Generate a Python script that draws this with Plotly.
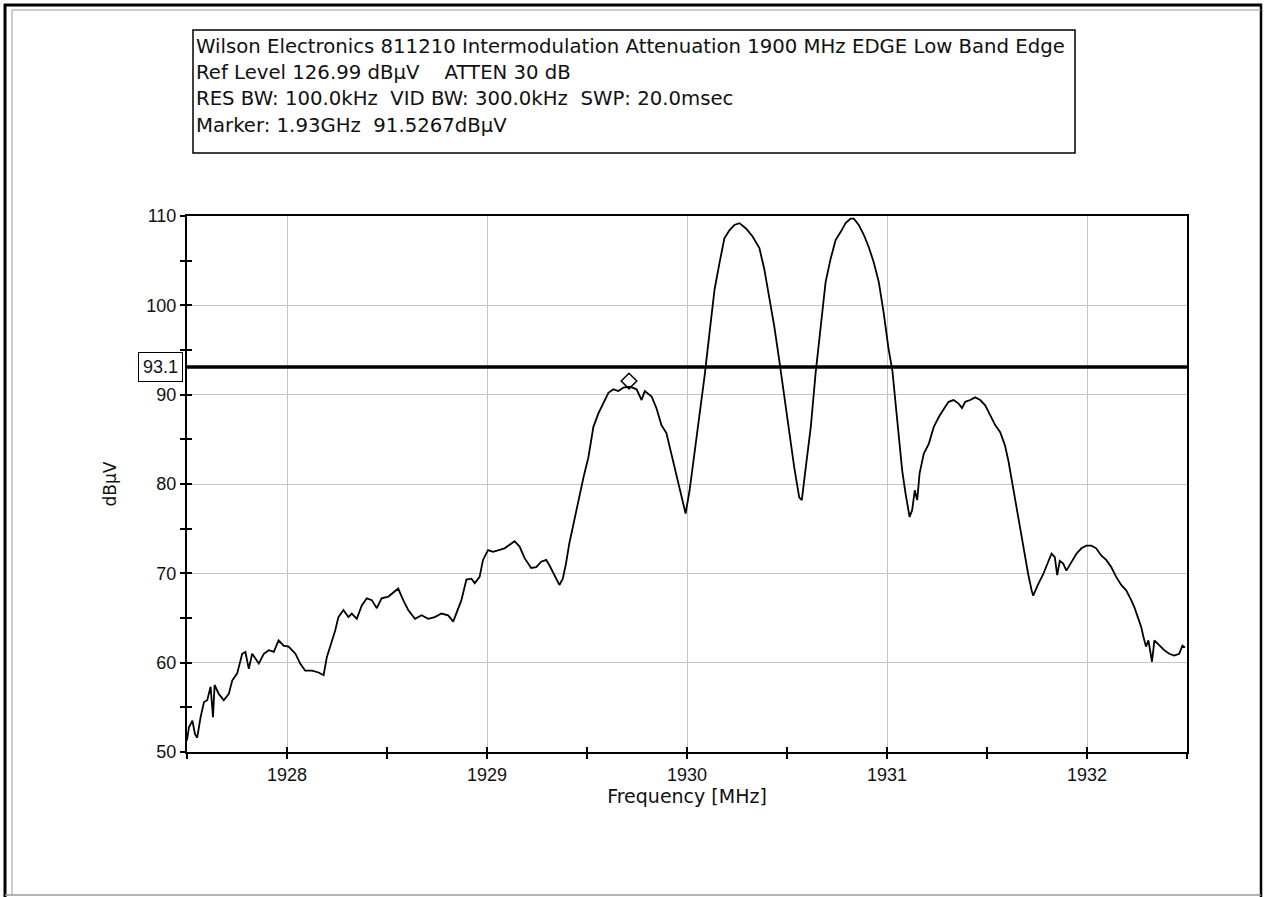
import plotly.graph_objects as go

# Spectrum analyser trace: frequency (MHz) vs level (dBuV)
freq_mhz = [
    1927.500, 1927.510, 1927.527, 1927.540, 1927.551, 1927.568, 1927.585, 1927.601,
    1927.618, 1927.630, 1927.638, 1927.659, 1927.684, 1927.709, 1927.726, 1927.751,
    1927.776, 1927.792, 1927.809, 1927.826, 1927.859, 1927.884, 1927.909, 1927.934,
    1927.958, 1927.983, 1928.008, 1928.042, 1928.066, 1928.091, 1928.125, 1928.158,
    1928.183, 1928.199, 1928.216, 1928.241, 1928.257, 1928.282, 1928.307, 1928.324,
    1928.349, 1928.374, 1928.399, 1928.424, 1928.449, 1928.473, 1928.507, 1928.532,
    1928.556, 1928.581, 1928.606, 1928.640, 1928.673, 1928.706, 1928.739, 1928.772,
    1928.806, 1928.831, 1928.847, 1928.872, 1928.897, 1928.922, 1928.939, 1928.963,
    1928.980, 1929.005, 1929.030, 1929.055, 1929.088, 1929.113, 1929.138, 1929.163,
    1929.188, 1929.221, 1929.246, 1929.271, 1929.296, 1929.312, 1929.337, 1929.362,
    1929.379, 1929.395, 1929.412, 1929.429,
    1929.441, 1929.466, 1929.483, 1929.507, 1929.532, 1929.557, 1929.582, 1929.607,
    1929.632, 1929.657, 1929.682, 1929.715, 1929.748, 1929.773, 1929.789, 1929.823,
    1929.847, 1929.872, 1929.897, 1929.922, 1929.947, 1929.972, 1929.993, 1930.013,
    1930.038, 1930.063, 1930.088, 1930.113, 1930.138, 1930.163, 1930.187, 1930.212,
    1930.237, 1930.262, 1930.295, 1930.328, 1930.362, 1930.386, 1930.411, 1930.436,
    1930.461, 1930.486, 1930.511, 1930.536, 1930.561, 1930.574, 1930.594, 1930.619,
    1930.643, 1930.668, 1930.693, 1930.718, 1930.743, 1930.768, 1930.793, 1930.818,
    1930.834, 1930.859, 1930.884, 1930.909, 1930.934, 1930.959, 1930.983, 1931.008,
    1931.027, 1931.043, 1931.060, 1931.076, 1931.093, 1931.113, 1931.126, 1931.139,
    1931.151, 1931.163, 1931.184, 1931.209, 1931.234, 1931.259, 1931.284, 1931.308,
    1931.333, 1931.358, 1931.375, 1931.391, 1931.416, 1931.441, 1931.466, 1931.491,
    1931.516, 1931.541, 1931.566, 1931.590, 1931.607, 1931.624, 1931.640, 1931.657,
    1931.673, 1931.690, 1931.706, 1931.723, 1931.731, 1931.756, 1931.781, 1931.806,
    1931.823, 1931.839, 1931.851, 1931.864, 1931.881, 1931.897, 1931.922, 1931.947,
    1931.972, 1931.997, 1932.022, 1932.046, 1932.071, 1932.096, 1932.121, 1932.146,
    1932.171, 1932.196, 1932.221, 1932.237, 1932.254, 1932.271, 1932.282, 1932.295,
    1932.307, 1932.317, 1932.325, 1932.337, 1932.362, 1932.386, 1932.411, 1932.436,
    1932.461, 1932.477, 1932.490,
]
level_dbuv = [
    51.3, 52.8, 53.5, 52.0, 51.6, 53.9, 55.6, 55.8,
    57.3, 53.9, 57.5, 56.5, 55.8, 56.5, 58.0, 58.8,
    61.0, 61.2, 59.3, 61.0, 59.9, 61.0, 61.4, 61.2,
    62.5, 61.9, 61.8, 61.0, 59.9, 59.1, 59.1, 58.9,
    58.6, 60.6, 61.8, 63.6, 65.1, 65.9, 65.1, 65.5,
    64.9, 66.4, 67.2, 67.0, 66.1, 67.2, 67.4, 67.9,
    68.3, 67.0, 65.9, 64.9, 65.3, 64.9, 65.1, 65.5,
    65.3, 64.6, 65.5, 67.0, 69.3, 69.4, 68.9, 69.6,
    71.5, 72.6, 72.4, 72.6, 72.8, 73.2, 73.6, 73.0,
    71.7, 70.6, 70.7, 71.3, 71.5, 70.9, 69.8, 68.7,
    69.4, 71.1, 73.4, 75.2,
    76.3, 78.9, 80.8, 83.0, 86.4, 87.9, 89.1, 90.2,
    90.6, 90.4, 90.8, 90.9, 90.6, 89.4, 90.4, 89.8,
    88.5, 86.6, 85.7, 83.4, 81.2, 78.9, 76.7, 79.3,
    83.4, 87.9, 92.1, 97.0, 101.8, 104.8, 107.5, 108.4,
    109.0, 109.2, 108.6, 107.7, 106.4, 104.1, 101.1, 97.7,
    93.9, 89.8, 85.7, 81.9, 78.5, 78.2, 81.9, 86.4,
    92.4, 97.7, 102.6, 105.2, 107.3, 108.2, 109.2, 109.7,
    109.7, 109.0, 107.9, 106.5, 104.8, 102.6, 99.2, 95.1,
    92.7, 89.0, 85.3, 81.5, 78.9, 76.3, 77.1, 79.3,
    78.2, 81.2, 83.4, 84.5, 86.4, 87.5, 88.4, 89.2,
    89.4, 89.0, 88.5, 89.2, 89.4, 89.7, 89.4, 88.8,
    87.7, 86.6, 85.8, 84.3, 82.6, 80.4, 78.5, 76.3,
    74.1, 71.8, 69.9, 68.1, 67.5, 68.8, 69.9, 71.3,
    72.2, 71.8, 69.8, 71.4, 71.1, 70.3, 71.3, 72.2,
    72.8, 73.1, 73.1, 72.8, 72.0, 71.5, 70.7, 69.6,
    68.7, 68.1, 67.0, 66.2, 65.1, 64.0, 62.9, 61.8,
    62.5, 61.0, 60.1, 62.5, 61.9, 61.4, 61.0, 60.8,
    61.0, 61.9, 61.7,
]

# Marker readout and limit line
marker_freq_mhz = [1929.71]
marker_level_dbuv = [91.5267]
limit_level = 93.1

x_ticks = [1928, 1929, 1930, 1931, 1932]
y_ticks = [50, 60, 70, 80, 90, 100, 110]
x_range = [1927.5, 1932.5]
y_range = [50, 110]

header_lines = [
    "Wilson Electronics 811210 Intermodulation Attenuation 1900 MHz EDGE Low Band Edge",
    "Ref Level 126.99 dBµV    ATTEN 30 dB",
    "RES BW: 100.0kHz  VID BW: 300.0kHz  SWP: 20.0msec",
    "Marker: 1.93GHz  91.5267dBµV",
]

FONT = "Liberation Sans"
TEXT_FONT = "DejaVu Sans"

# Plot area in pixels (figure is 1268 x 897)
L, R, T, B = 187, 1187, 216, 752
W, H = 1268, 897


def px(xp):
    return (xp - L) / (R - L)


def py(yp):
    return (B - yp) / (B - T)


fig = go.Figure()

fig.add_trace(go.Scatter(
    x=freq_mhz, y=level_dbuv, mode="lines",
    line=dict(color="black", width=1.8), hoverinfo="skip", showlegend=False,
))
fig.add_trace(go.Scatter(
    x=marker_freq_mhz, y=marker_level_dbuv, mode="markers",
    marker=dict(symbol="diamond-open", size=12, color="black", line=dict(width=1.5)),
    hoverinfo="skip", showlegend=False,
))
# Empty trace that carries the inward tick marks on the overlay axes
fig.add_trace(go.Scatter(x=[None], y=[None], xaxis="x2", yaxis="y2",
                         mode="lines", showlegend=False, hoverinfo="skip"))

axis_common = dict(
    showline=True, linecolor="black", linewidth=2, mirror=True,
    ticks="outside", ticklen=5, tickwidth=1.5, tickcolor="black",
    showgrid=True, gridcolor="#c4c4c4", gridwidth=1.2, zeroline=False,
    tickfont=dict(family=FONT, size=18, color="#111"),
)

fig.update_layout(
    width=W, height=H,
    margin=dict(l=L, r=W - R, t=T, b=H - B, pad=0),
    paper_bgcolor="white", plot_bgcolor="white",
    font=dict(family=FONT, color="#111"),
    xaxis=dict(
        range=x_range, tickvals=x_ticks, ticktext=[str(v) for v in x_ticks],
        minor=dict(dtick=0.5, tick0=1927.5, ticks="outside", ticklen=5, tickwidth=1.5,
                   tickcolor="black", showgrid=False),
        title=dict(text="Frequency [MHz]", font=dict(family=TEXT_FONT, size=19), standoff=5),
        **axis_common,
    ),
    yaxis=dict(
        range=y_range, tickvals=y_ticks, ticktext=[str(v) for v in y_ticks],
        minor=dict(dtick=5, tick0=50, ticks="outside", ticklen=5, tickwidth=1.5,
                   tickcolor="black", showgrid=False),
        title=dict(text="dBµV", font=dict(family=TEXT_FONT, size=17), standoff=25),
        **axis_common,
    ),
    xaxis2=dict(
        overlaying="x", anchor="y2", range=x_range, tickvals=x_ticks,
        showticklabels=False, showgrid=False, showline=False, zeroline=False,
        ticks="inside", ticklen=5, tickwidth=1.5, tickcolor="black",
        minor=dict(dtick=0.5, tick0=1927.5, ticks="inside", ticklen=5, tickwidth=1.5,
                   tickcolor="black", showgrid=False),
        side="bottom",
    ),
    yaxis2=dict(
        overlaying="y", anchor="x2", range=y_range, tickvals=y_ticks,
        showticklabels=False, showgrid=False, showline=False, zeroline=False,
        ticks="inside", ticklen=5, tickwidth=1.5, tickcolor="black",
        minor=dict(dtick=5, tick0=50, ticks="inside", ticklen=5, tickwidth=1.5,
                   tickcolor="black", showgrid=False),
        side="left",
    ),
)

shapes = []
# Limit line across the plot
shapes.append(dict(type="line", xref="paper", yref="y", x0=0, x1=1,
                   y0=limit_level, y1=limit_level,
                   line=dict(color="black", width=3.5)))
# Header box
shapes.append(dict(type="rect", xref="paper", yref="paper",
                   x0=px(193), x1=px(1075), y0=py(153), y1=py(30),
                   line=dict(color="black", width=1.5), fillcolor="rgba(0,0,0,0)"))
# Window frame
shapes.append(dict(type="line", xref="paper", yref="paper",
                   x0=px(5), x1=px(5), y0=py(4), y1=py(897),
                   line=dict(color="black", width=3)))
shapes.append(dict(type="line", xref="paper", yref="paper",
                   x0=px(4), x1=px(1262), y0=py(5), y1=py(5),
                   line=dict(color="black", width=3)))
shapes.append(dict(type="line", xref="paper", yref="paper",
                   x0=px(1261), x1=px(1261), y0=py(4), y1=py(897),
                   line=dict(color="black", width=2.5)))
shapes.append(dict(type="line", xref="paper", yref="paper",
                   x0=px(12), x1=px(12), y0=py(10), y1=py(895),
                   line=dict(color="#9a9a9a", width=1)))
shapes.append(dict(type="line", xref="paper", yref="paper",
                   x0=px(12), x1=px(1261), y0=py(10), y1=py(10),
                   line=dict(color="#9a9a9a", width=1)))
shapes.append(dict(type="line", xref="paper", yref="paper",
                   x0=px(5), x1=px(1261), y0=py(895), y1=py(895),
                   line=dict(color="#9a9a9a", width=1.5)))
fig.update_layout(shapes=shapes)

annotations = []
for i, line in enumerate(header_lines):
    annotations.append(dict(
        text=line, xref="paper", yref="paper", x=px(194), y=py(47 + 26 * i),
        xanchor="left", yanchor="middle", showarrow=False,
        font=dict(family=TEXT_FONT, size=19.7, color="#111"),
    ))
annotations.append(dict(
    text=f"{limit_level:.1f}", xref="paper", yref="y", x=px(183), y=limit_level,
    xanchor="right", yanchor="middle", showarrow=False,
    font=dict(family=FONT, size=18, color="#111"),
    bordercolor="black", borderwidth=1, borderpad=4, bgcolor="white",
))
fig.update_layout(annotations=annotations)

fig.write_html("out.html")
